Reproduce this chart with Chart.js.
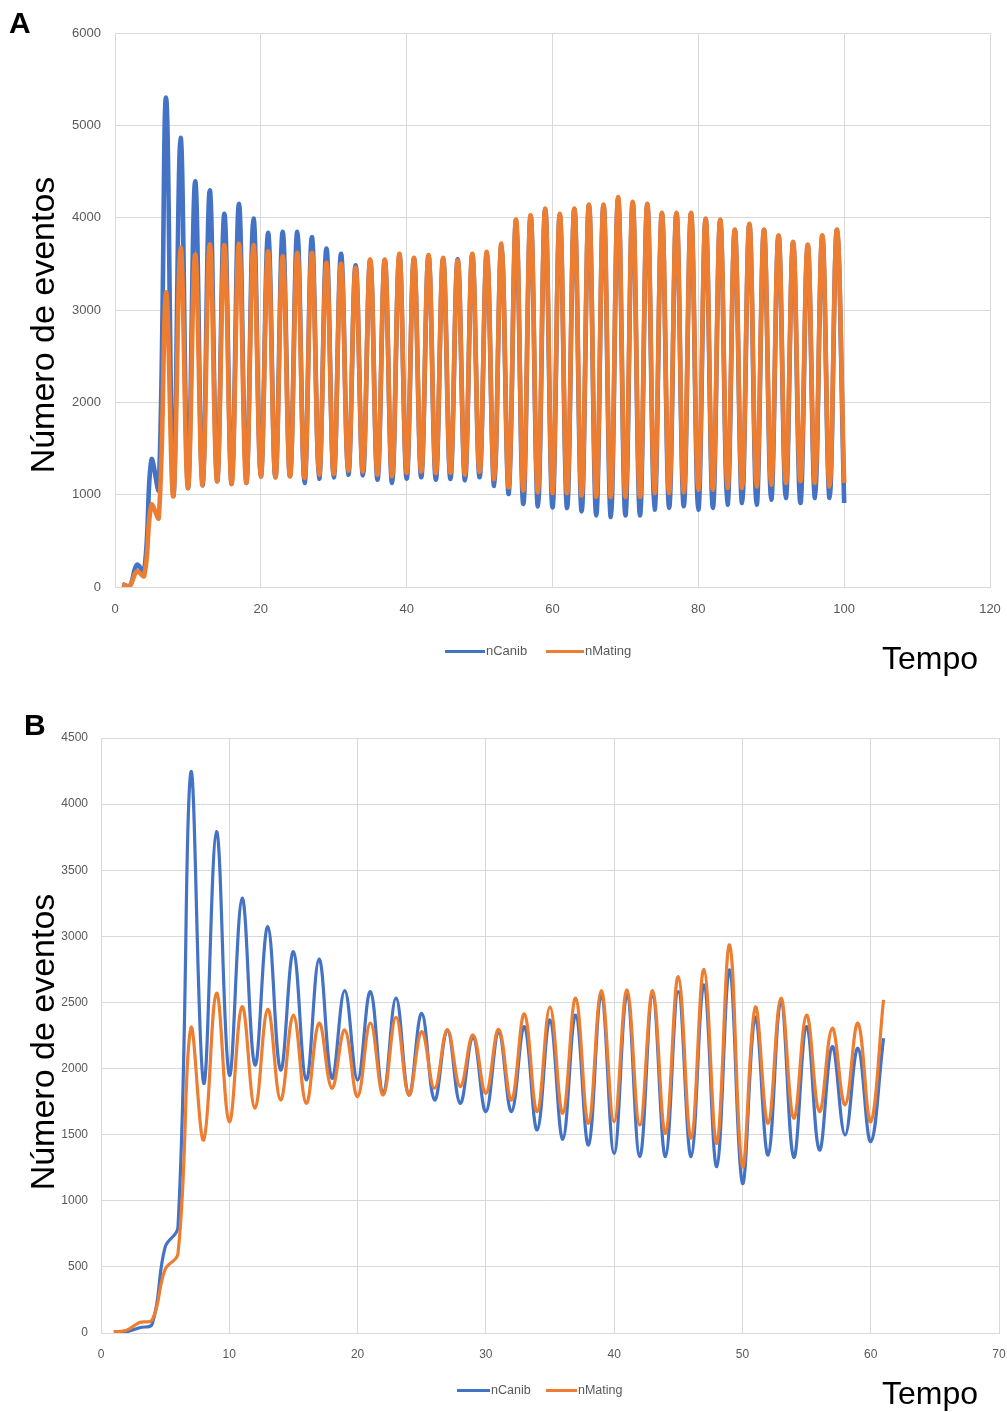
<!DOCTYPE html>
<html>
<head>
<meta charset="utf-8">
<script src="https://cdn.jsdelivr.net/npm/chart.js@4.4.0/dist/chart.umd.min.js"></script>
<style>
  html, body { margin: 0; padding: 0; background: #ffffff; }
  body { width: 1007px; height: 1412px; position: relative; overflow: hidden; font-family: 'Liberation Sans', Arial, sans-serif; }
  canvas { position: absolute; left: 0; }
  .lbl { position: absolute; color: #000; white-space: nowrap; }
  .panel { font-weight: bold; font-size: 30px; line-height: 30px; }
  .ytitle { font-size: 34px; line-height: 34px; transform: translate(-50%, -50%) rotate(-90deg); }
  .tempo { font-size: 32px; line-height: 32px; }
  .leg { position: absolute; font-size: 13px; line-height: 14px; color: #595959; white-space: nowrap; }
  .leg span.ln { display: inline-block; width: 40px; height: 3px; vertical-align: middle; margin-right: 1px; }
</style>
</head>
<body>
<canvas id="chartA" width="1007" height="700" style="top:0px"></canvas>
<canvas id="chartB" width="1007" height="712" style="top:700px"></canvas>

<div class="lbl panel" style="left:9px; top:8px;">A</div>
<div class="lbl panel" style="left:24px; top:710px;">B</div>
<div class="lbl ytitle" style="left:42px; top:325px;">Número de eventos</div>
<div class="lbl ytitle" style="left:42px; top:1042px;">Número de eventos</div>
<div class="lbl tempo" style="left:882px; top:642px;">Tempo</div>
<div class="lbl tempo" style="left:882px; top:1377px;">Tempo</div>

<div class="leg" style="left:445px; top:644px;"><span class="ln" style="background:#4472C4"></span>nCanib</div>
<div class="leg" style="left:546px; top:644px;"><span class="ln" style="background:#ED7D31;width:38px"></span>nMating</div>
<div class="leg" style="left:457px; top:1383px; font-size:12.5px;"><span class="ln" style="background:#4472C4;width:33px"></span>nCanib</div>
<div class="leg" style="left:546px; top:1383px; font-size:12.5px;"><span class="ln" style="background:#ED7D31;width:31px"></span>nMating</div>

<script>
// ---------- Panel A data ----------
const tempoA = [1,2,3,4,5,6,7,8,9,10,11,12,13,14,15,16,17,18,19,20,
  21,22,23,24,25,26,27,28,29,30,31,32,33,34,35,36,37,38,39,40,
  41,42,43,44,45,46,47,48,49,50,51,52,53,54,55,56,57,58,59,60,
  61,62,63,64,65,66,67,68,69,70,71,72,73,74,75,76,77,78,79,80,
  81,82,83,84,85,86,87,88,89,90,91,92,93,94,95,96,97,98,99,100];
const nCanibA = [30,5,240,170,1380,1060,5300,990,4865,1073,
  4394,1102,4295,1145,4041,1116,4150,1127,3991,1199,
  3835,1188,3846,1199,3846,1127,3789,1174,3666,1188,
  3608,1217,3485,1210,3540,1163,3540,1127,3600,1174,
  3560,1188,3585,1163,3555,1170,3550,1156,3600,1188,
  3620,1095,3710,1008,3970,899,4020,874,4090,863,
  4030,856,4090,820,4135,776,4135,758,4210,776,
  4160,776,4140,838,4045,856,4045,874,4045,838,
  3980,856,3970,892,3865,910,3925,892,3865,946,
  3800,964,3730,910,3700,964,3800,964,3865,910];
const nMatingA = [30,10,170,120,890,750,3190,983,3673,1073,
  3601,1102,3710,1145,3702,1116,3716,1127,3702,1199,
  3637,1188,3583,1199,3619,1181,3619,1217,3510,1224,
  3500,1260,3456,1250,3547,1217,3547,1200,3608,1236,
  3565,1250,3594,1235,3565,1236,3536,1218,3608,1250,
  3630,1170,3720,1081,3980,1044,4027,1026,4099,1018,
  4041,1018,4099,990,4143,975,4143,975,4222,975,
  4171,975,4150,1018,4052,1018,4052,1026,4052,1055,
  3991,1055,3980,1073,3872,1073,3933,1091,3872,1109,
  3810,1127,3738,1145,3709,1127,3810,1091,3872,1127];
const xTicksA = [0,20,40,60,80,100,120];
const yTicksA = [0,1000,2000,3000,4000,5000,6000];

// ---------- Panel B data ----------
const tempoB = [1,2,3,4,5,6,7,8,9,10,11,12,13,14,15,16,17,18,19,20,
  21,22,23,24,25,26,27,28,29,30,31,32,33,34,35,36,37,38,39,40,
  41,42,43,44,45,46,47,48,49,50,51,52,53,54,55,56,57,58,59,60,61];
const nCanibB = [10,10,40,70,650,800,4238,1889,3792,1952,
  3288,2027,3073,1989,2884,1914,2827,1927,2589,1914,
  2582,1813,2532,1800,2418,1762,2292,1737,2240,1674,
  2270,1674,2317,1536,2368,1465,2405,1422,2557,1359,
  2557,1334,2545,1334,2582,1334,2632,1258,2746,1132,
  2388,1346,2506,1329,2317,1384,2166,1498,2154,1447,2229];
const nMatingB = [10,20,80,100,480,600,2305,1460,2570,1598,
  2468,1700,2448,1762,2405,1737,2343,1851,2292,1788,
  2343,1800,2388,1800,2279,1851,2292,1863,2254,1813,
  2297,1762,2413,1674,2464,1662,2532,1586,2589,1598,
  2595,1573,2589,1510,2695,1473,2751,1435,2935,1258,
  2464,1586,2532,1624,2405,1674,2305,1725,2343,1598,2519];
const xTicksB = [0,10,20,30,40,50,60,70];
const yTicksB = [0,500,1000,1500,2000,2500,3000,3500,4000,4500];

const seriesNames = ['nCanib', 'nMating'];
const BLUE = '#4472C4', ORANGE = '#ED7D31';
const GRID = '#d9d9d9', TICK = '#595959';

function pts(xs, ys) { return xs.map((x, i) => ({ x: x, y: ys[i] })); }

function makeChart(id, cfg) {
  const ctx = document.getElementById(id).getContext('2d');
  return new Chart(ctx, {
    type: 'line',
    data: {
      datasets: [
        { label: seriesNames[0], data: pts(cfg.t, cfg.a), borderColor: BLUE, backgroundColor: BLUE,
          borderWidth: cfg.lw, pointRadius: 0, tension: cfg.tension, order: 2, fill: false },
        { label: seriesNames[1], data: pts(cfg.t, cfg.b), borderColor: ORANGE, backgroundColor: ORANGE,
          borderWidth: cfg.lw, pointRadius: 0, tension: cfg.tension, order: 1, fill: false }
      ]
    },
    options: {
      responsive: false,
      animation: false,
      events: [],
      devicePixelRatio: 1,
      layout: { padding: cfg.padding },
      plugins: { legend: { display: false }, tooltip: { enabled: false }, title: { display: false } },
      scales: {
        x: {
          type: 'linear', min: cfg.xt[0], max: cfg.xt[cfg.xt.length - 1],
          afterBuildTicks: s => { s.ticks = cfg.xt.map(v => ({ value: v })); },
          afterFit: s => { s.height = cfg.xh; s.paddingLeft = 0; s.paddingRight = 0; },
          grid: { color: GRID, lineWidth: 1, drawTicks: false },
          border: { display: true, color: GRID, width: 1 },
          ticks: { color: TICK, font: { family: "'Liberation Sans', Arial, sans-serif", size: cfg.fs },
                   padding: cfg.xpad, maxRotation: 0, autoSkip: false, callback: v => String(v) }
        },
        y: {
          type: 'linear', min: cfg.yt[0], max: cfg.yt[cfg.yt.length - 1],
          afterBuildTicks: s => { s.ticks = cfg.yt.map(v => ({ value: v })); },
          afterFit: s => { s.width = cfg.yw; s.paddingTop = 0; s.paddingBottom = 0; },
          grid: { color: GRID, lineWidth: 1, drawTicks: false },
          border: { display: true, color: GRID, width: 1 },
          ticks: { color: TICK, font: { family: "'Liberation Sans', Arial, sans-serif", size: cfg.fs },
                   padding: cfg.ypad, autoSkip: false, callback: v => String(v) }
        }
      }
    }
  });
}

makeChart('chartA', { t: tempoA, a: nCanibA, b: nMatingA, xt: xTicksA, yt: yTicksA,
  lw: 4.6, tension: 0.4, padding: { left: 0, top: 33, right: 17, bottom: 0 },
  xh: 113, yw: 115, fs: 13, xpad: 15, ypad: 14 });

makeChart('chartB', { t: tempoB, a: nCanibB, b: nMatingB, xt: xTicksB, yt: yTicksB,
  lw: 3.2, tension: 0.4, padding: { left: 0, top: 38, right: 8, bottom: 0 },
  xh: 79, yw: 101, fs: 12, xpad: 14, ypad: 13 });
</script>
</body>
</html>
